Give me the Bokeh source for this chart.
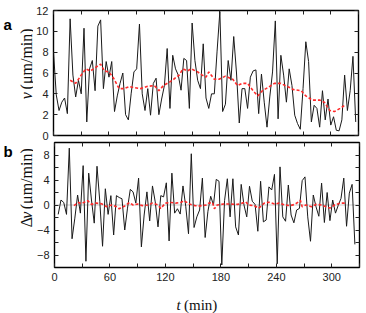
import numpy as np
from bokeh.plotting import figure
from bokeh.models import FixedTicker, LinearAxis, Range1d, Span, CustomLabelingPolicy
from bokeh.layouts import column, row
from bokeh.core.properties import value
from bokeh.embed import file_html
from bokeh.resources import INLINE

DT = 3.0  # sampling interval (min)

# panel a: speed v (um/min), one value every DT minutes starting at t = 0
v_speed = [8.0, 3.9, 2.4, 3.2, 3.6, 2.1, 11.2, 5.8, 3.7, 5.3, 4.0, 10.3, 1.3, 6.4, 7.2, 4.3,
           10.5, 11.1, 4.5, 7.1, 5.6, 7.1, 2.3, 3.8, 5.0, 6.0, 2.0, 1.5, 4.0, 6.1, 6.4, 10.7,
           4.0, 2.4, 4.5, 1.95, 5.0, 5.5, 2.0, 3.5, 4.8, 8.35, 2.6, 7.7, 6.4, 5.8, 4.35, 7.4,
           7.2, 2.6, 10.8, 7.2, 5.3, 4.5, 8.8, 3.6, 2.6, 4.0, 4.0, 8.1, 11.9, 2.3, 3.0, 7.2,
           5.3, 9.5, 6.0, 1.2, 4.5, 4.5, 2.6, 5.6, 6.2, 6.3, 2.1, 5.9, 3.2, 0.8, 3.7, 6.1,
           11.0, 1.6, 7.7, 5.8, 3.2, 6.4, 4.8, 1.95, 1.15, 0.6, 4.5, 9.0, 7.1, 1.3, 2.9, 2.6,
           0.8, 4.3, 1.5, 3.5, 1.0, 1.8, 0.5, 0.45, 1.5, 5.8, 2.4, 4.3, 7.6, 1.3]
t_speed = (np.arange(len(v_speed)) * DT).tolist()

# panel a: smoothed speed (red dashed)
red_a_t = [18, 24, 30, 35, 40, 45, 51, 55, 60, 65, 71, 76, 82, 87, 94, 101, 109, 114, 119, 125,
           130, 136, 140, 145, 149, 156, 161, 165, 168, 174, 179, 186, 194, 199, 204, 210, 216,
           221, 226, 232, 239, 246, 253, 260, 268, 273, 280, 288, 293, 299, 304, 310, 315]
red_a_v = [5.3, 5.0, 5.8, 6.4, 6.2, 6.5, 6.85, 6.2, 6.1, 5.5, 4.5, 4.5, 4.7, 4.6, 4.5, 4.7, 4.8,
           4.3, 4.8, 5.1, 5.4, 5.8, 6.4, 6.2, 6.4, 6.1, 5.8, 5.6, 6.1, 5.4, 5.4, 5.7, 5.4, 4.8,
           5.0, 5.0, 4.3, 3.8, 4.3, 4.6, 5.0, 5.0, 4.7, 4.4, 4.3, 3.8, 3.4, 3.4, 3.2, 2.4, 2.3,
           2.6, 2.9]

# panel b: speed change dv (um/min)
dv = [-1.5, 0.8, 0.4, -1.5, 9.1, -5.4, -2.1, 1.6, -1.3, 6.3, -9.0, 5.1, 0.8, -2.9, 6.2, 0.6,
      -6.6, 2.6, -1.5, 1.5, -4.8, 1.5, 1.2, 1.0, -4.0, -0.5, 2.5, 2.1, 0.3, 4.3, -6.7, -1.6,
      2.1, -2.55, 3.05, 0.5, -3.5, 1.5, 1.3, 3.55, -5.75, 5.1, -1.3, -0.6, -1.45, 3.05, -0.2,
      -4.6, 8.2, -3.6, -1.9, -0.8, 4.3, -5.2, -1.0, 1.4, 0.0, 4.1, 3.8, -9.6, 0.7, 4.2, -1.9,
      4.2, -3.5, -4.8, 3.3, 0.0, -1.9, 3.0, 0.6, 0.1, -4.2, 3.8, -2.7, -2.4, 2.9, 2.4, 4.9,
      -9.4, 6.1, -1.9, -2.6, 3.2, -1.6, -2.85, -0.8, -0.55, 3.9, 4.5, -1.9, -5.8, 1.6, -0.3,
      -1.8, 3.5, -2.8, 2.0, -2.5, 0.8, -1.3, -0.05, 1.05, 4.3, -3.4, 1.9, 3.3, -6.3]
t_dv = (np.arange(1, len(dv) + 1) * DT + 1.0).tolist()

# panel b: smoothed dv (red dashed)
red_b_t = [21, 26, 29, 36, 40, 45, 51, 56, 62, 67, 70, 76, 81, 85, 90, 95, 101, 106, 112, 115,
           120, 126, 131, 137, 140, 146, 152, 157, 164, 167, 171, 173, 176, 183, 190, 198, 203,
           207, 210, 216, 221, 227, 232, 238, 243, 249, 255, 260, 264, 266, 268, 272, 278, 283,
           289, 294, 298, 303, 309, 314]
red_b_v = [-0.1, 0.4, 0.2, 0.7, 0.1, 0.3, 0.2, -0.27, 0.0, -0.27, -0.6, -0.15, 0.4, 0.0, 0.15,
           -0.1, 0.0, 0.3, 0.0, -0.55, 0.3, 0.4, 0.3, 0.43, 0.7, 0.15, -0.1, -0.15, 0.0, 0.3,
           0.4, -0.6, 0.0, 0.15, 0.15, 0.1, 0.3, 0.5, 0.0, -0.1, -0.5, 0.3, 0.45, 0.15, 0.3,
           0.0, -0.1, 0.1, 0.5, 0.75, -0.27, 0.0, -0.27, 0.1, 0.0, -0.27, -0.5, 0.0, 0.3, 0.3]

x_ticks = list(range(0, 331, 30))      # labels on every other tick (0, 60, ...)
ya_ticks = list(range(0, 13, 2))
yb_ticks = list(range(-8, 9, 2))       # labels on every other tick (-8, -4, ...)

TICK_FONT = "Liberation Sans"
SERIF = "Liberation Serif"
BLACK = "#1a1a1a"
RED = "#ff2a2a"
SIDE_W = 33

HIDE_ALL = "for (let i = 0; i < indices.size; i++) { indices.unset(i) }\nreturn indices"
KEEP_EVEN = "for (let i = 0; i < indices.size; i++) { if (i % 2 == 1) indices.unset(i) }\nreturn indices"


def style_axis(ax, ticks, mode):
    ax.ticker = FixedTicker(ticks=ticks)
    ax.major_tick_in = 4
    ax.major_tick_out = 0
    ax.minor_tick_line_color = None
    ax.axis_line_color = None
    ax.major_tick_line_color = "#222222"
    ax.major_tick_line_width = 1
    if mode == "none":
        ax.major_label_text_font_size = "0px"
        ax.major_label_standoff = 0
        ax.major_label_policy = CustomLabelingPolicy(code=HIDE_ALL)
    else:
        ax.major_label_text_font = TICK_FONT
        ax.major_label_text_font_size = "11px"
        ax.major_label_text_color = "#222222"
        ax.major_label_standoff = 5
        if mode == "even":
            ax.major_label_policy = CustomLabelingPolicy(code=KEEP_EVEN)


def make_fig(y0, y1, yticks, ymode, xmode, top_border, bottom_border):
    p = figure(frame_width=305, frame_height=125,
               x_range=Range1d(0, 330), y_range=Range1d(y0, y1),
               output_backend="svg", toolbar_location=None,
               min_border_left=53 - SIDE_W, min_border_right=8,
               min_border_top=top_border, min_border_bottom=bottom_border)
    p.grid.visible = False
    p.outline_line_color = "black"
    p.outline_line_width = 1.4
    style_axis(p.xaxis[0], x_ticks, xmode)
    style_axis(p.yaxis[0], yticks, ymode)
    ax_r = LinearAxis()
    style_axis(ax_r, yticks, "none")
    p.add_layout(ax_r, "right")
    ax_t = LinearAxis()
    style_axis(ax_t, x_ticks, "none")
    p.add_layout(ax_t, "above")
    return p


def side_fig(w, h):
    s = figure(width=w, height=h, x_range=Range1d(0, w), y_range=Range1d(0, h),
               output_backend="svg", toolbar_location=None,
               x_axis_location=None, y_axis_location=None,
               min_border_left=0, min_border_right=0, min_border_top=0, min_border_bottom=0)
    s.grid.visible = False
    s.outline_line_color = None
    return s


# ---- panel a ----  (canvas 141 px high: frame 10..135)
p1 = make_fig(0, 12, ya_ticks, "all", "none", 10, 6)
p1.line(t_speed, v_speed, line_color=BLACK, line_width=1)
p1.line(red_a_t, red_a_v, line_color=RED, line_width=1.6, line_dash="3 2")

sa = side_fig(SIDE_W, 141)
sa.text(x=[3], y=[125.5], text=["a"], text_font=value(TICK_FONT), text_font_style="bold",
        text_font_size="15px", text_baseline="alphabetic", text_align="left", text_color="black")
sa.text(x=[25.5], y=[41], text=["v"], angle=np.pi / 2, text_font=value(SERIF),
        text_font_style="italic", text_font_size="16px", text_baseline="alphabetic",
        text_align="left", text_color="#111111")
sa.text(x=[25.5], y=[52], text=["(μm/min)"], angle=np.pi / 2, text_font=value(SERIF),
        text_font_size="16px", text_baseline="alphabetic", text_align="left", text_color="#111111")

# ---- panel b ----  (canvas 146 px high: frame 142..267)
p2 = make_fig(-10, 10, yb_ticks, "even", "even", 1, 20)
p2.add_layout(Span(location=0, dimension="width", line_color="#bbbbbb",
                   line_width=0.8, level="underlay"))
p2.line(t_dv, dv, line_color=BLACK, line_width=1)
p2.line(red_b_t, red_b_v, line_color=RED, line_width=1.6, line_dash="3 2")

sb = side_fig(SIDE_W, 146)
sb.text(x=[3], y=[135], text=["b"], text_font=value(TICK_FONT), text_font_style="bold",
        text_font_size="15px", text_baseline="alphabetic", text_align="left", text_color="black")
sb.text(x=[25.5], y=[47], text=["Δ"], angle=np.pi / 2, text_font=value(SERIF),
        text_font_size="16px", text_baseline="alphabetic", text_align="left", text_color="#111111")
sb.text(x=[25.5], y=[57], text=["v"], angle=np.pi / 2, text_font=value(SERIF),
        text_font_style="italic", text_font_size="16px", text_baseline="alphabetic",
        text_align="left", text_color="#111111")
sb.text(x=[25.5], y=[68], text=["(μm/min)"], angle=np.pi / 2, text_font=value(SERIF),
        text_font_size="16px", text_baseline="alphabetic", text_align="left", text_color="#111111")

# ---- x-axis title ----
sx = side_fig(366, 26)
sx.text(x=[176], y=[9], text=["t"], text_font=value(SERIF), text_font_style="italic",
        text_font_size="15px", text_baseline="alphabetic", text_align="left", text_color="#111111")
sx.text(x=[183.5], y=[9], text=["(min)"], text_font=value(SERIF), text_font_size="15px",
        text_baseline="alphabetic", text_align="left", text_color="#111111")

layout = column(row(sa, p1), row(sb, p2), sx)
open("out.html", "w").write(file_html(layout, INLINE))
